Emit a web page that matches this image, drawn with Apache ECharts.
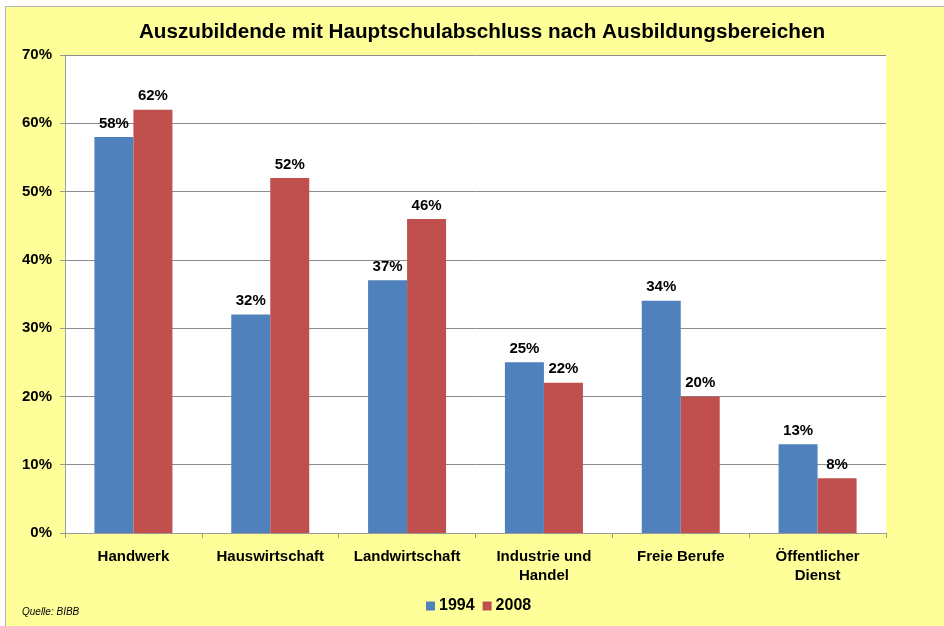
<!DOCTYPE html>
<html>
<head>
<meta charset="utf-8">
<script src="https://cdn.jsdelivr.net/npm/echarts@6/dist/echarts.min.js"></script>
<style>
  html, body { margin: 0; padding: 0; background: #fff; }
  #chart { width: 944px; height: 626px; }
</style>
</head>
<body>
<div id="chart"></div>
<script>
var categories = ["Handwerk", "Hauswirtschaft", "Landwirtschaft", "Industrie und\nHandel", "Freie Berufe", "Öffentlicher\nDienst"];
var values1994 = [58, 32, 37, 25, 34, 13];
var values2008 = [62, 52, 46, 22, 20, 8];

var font = "Liberation Sans, Arial, sans-serif";
var chart = echarts.init(document.getElementById("chart"));

var labelStyle = {
  show: true,
  position: "top",
  formatter: "{c}%",
  color: "#000",
  fontFamily: font,
  fontWeight: "bold",
  fontSize: 15,
  distance: 6
};

chart.setOption({
  backgroundColor: "#fff",
  animation: false,
  graphic: [
    {
      type: "rect",
      z: -10,
      shape: { x: 5.5, y: 6.5, width: 950, height: 640 },
      style: { fill: "#FFFF99", stroke: "#b0b0b0", lineWidth: 1 }
    },
    {
      type: "text",
      left: 22,
      top: 607,
      style: {
        text: "Quelle: BIBB",
        fontFamily: font,
        fontStyle: "italic",
        fontSize: 10,
        fill: "#000"
      }
    }
  ],
  title: {
    text: "Auszubildende mit Hauptschulabschluss nach Ausbildungsbereichen",
    left: 477,
    textAlign: "center",
    top: 17,
    textStyle: { fontFamily: font, fontWeight: "bold", fontSize: 20.7, color: "#000" }
  },
  legend: {
    data: ["1994", "2008"],
    left: 421,
    top: 593,
    icon: "rect",
    itemWidth: 9,
    itemHeight: 9,
    itemGap: 8,
    textStyle: { fontFamily: font, fontWeight: "bold", fontSize: 16, color: "#000", padding: [0, 0, 0, -1] }
  },
  grid: {
    left: 65,
    top: 55,
    width: 821,
    height: 478,
    show: true,
    backgroundColor: "#fff",
    borderWidth: 0
  },
  xAxis: {
    type: "category",
    data: categories,
    axisLine: { lineStyle: { color: "#9a9a9a", width: 1 } },
    axisTick: { show: true, length: 5, lineStyle: { color: "#9a9a9a" } },
    axisLabel: {
      interval: 0,
      margin: 14,
      color: "#000",
      fontFamily: font,
      fontWeight: "bold",
      fontSize: 15,
      lineHeight: 19
    }
  },
  yAxis: {
    type: "value",
    min: 0,
    max: 70,
    interval: 10,
    axisLine: { show: true, lineStyle: { color: "#9a9a9a", width: 1 } },
    axisTick: { show: true, length: 5, lineStyle: { color: "#9a9a9a" } },
    splitLine: { lineStyle: { color: "#8c8c8c", width: 1 } },
    axisLabel: {
      formatter: "{value}%",
      margin: 13,
      color: "#000",
      fontFamily: font,
      fontWeight: "bold",
      fontSize: 15
    }
  },
  series: [
    {
      name: "1994",
      type: "bar",
      data: values1994,
      barWidth: 39,
      barGap: "0%",
      itemStyle: { color: "#4F81BD" },
      label: labelStyle
    },
    {
      name: "2008",
      type: "bar",
      data: values2008,
      barWidth: 39,
      barGap: "0%",
      itemStyle: { color: "#C0504D" },
      label: labelStyle
    }
  ]
});
</script>
</body>
</html>
